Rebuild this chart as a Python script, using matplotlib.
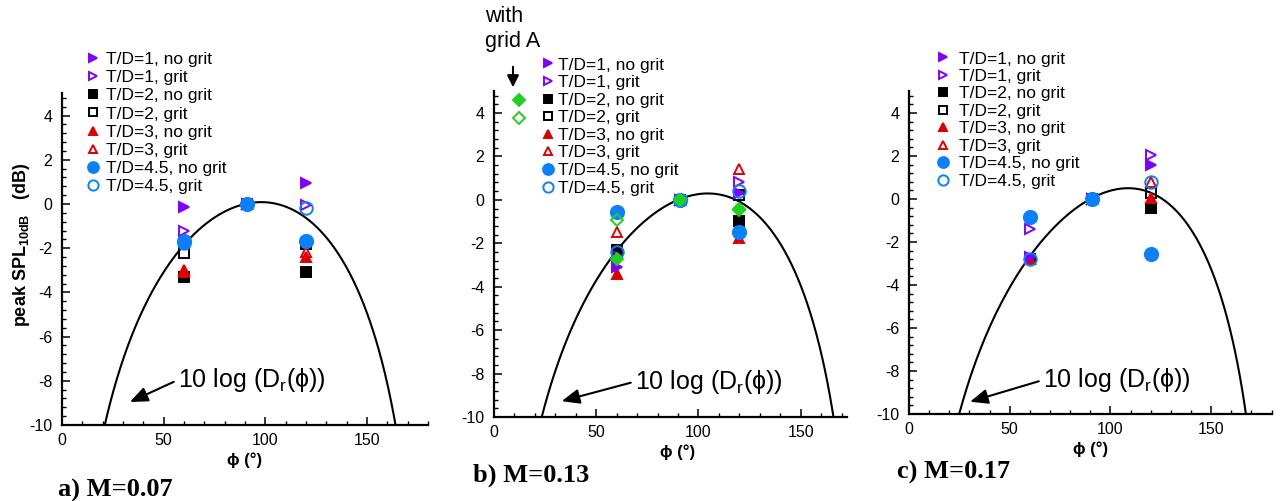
import numpy as np
import matplotlib
matplotlib.use("Agg")
import matplotlib.pyplot as plt
from matplotlib.lines import Line2D
from matplotlib.ticker import MultipleLocator

plt.rcParams['font.family'] = ['Liberation Sans', 'DejaVu Sans']
plt.rcParams['mathtext.fontset'] = 'custom'
plt.rcParams['mathtext.rm'] = 'Liberation Sans'
plt.rcParams['mathtext.it'] = 'Liberation Sans:italic'
plt.rcParams['mathtext.bf'] = 'Liberation Sans:bold'
plt.rcParams['axes.unicode_minus'] = False

# ---------------- data ----------------
panel_titles = ["a) M=0.07", "b) M=0.13", "c) M=0.17"]
mach = [0.07, 0.13, 0.17]
phi = [60, 91, 120]

series_labels = ["T/D=1, no grit", "T/D=1, grit", "T/D=2, no grit", "T/D=2, grit",
                 "T/D=3, no grit", "T/D=3, grit", "T/D=4.5, no grit", "T/D=4.5, grit"]

# panel a (M=0.07)
a_td1_nogrit = [-0.15, 0.0, 0.97]
a_td1_grit = [-1.22, 0.0, -0.05]
a_td2_nogrit = [-3.29, 0.0, -3.06]
a_td2_grit = [-2.23, 0.0, -1.81]
a_td3_nogrit = [-3.09, 0.0, -2.41]
a_td3_grit = [-3.00, 0.0, -2.19]
a_td45_nogrit = [-1.67, 0.0, -1.66]
a_td45_grit = [-1.75, 0.0, -0.20]

# panel b (M=0.13)
b_td1_nogrit = [-3.11, 0.0, 0.31]
b_td1_grit = [-2.60, 0.0, 0.81]
b_td2_nogrit = [-2.38, 0.0, -0.97]
b_td2_grit = [-2.30, 0.0, 0.23]
b_td3_nogrit = [-3.40, 0.0, -1.76]
b_td3_grit = [-1.46, 0.0, 1.41]
b_td45_nogrit = [-0.57, 0.0, -1.50]
b_td45_grit = [-2.41, 0.0, 0.41]
b_gridA_nogrit = [-2.73, 0.0, -0.46]
b_gridA_grit = [-0.92, 0.0, -0.40]

# panel c (M=0.17)
c_td1_nogrit = [-2.70, 0.0, 1.58]
c_td1_grit = [-1.40, 0.0, 2.05]
c_td2_nogrit = [-2.80, 0.0, -0.40]
c_td2_grit = [-2.80, 0.0, 0.30]
c_td3_nogrit = [-2.79, 0.0, 0.06]
c_td3_grit = [-2.80, 0.0, 0.78]
c_td45_nogrit = [-0.85, 0.0, -2.57]
c_td45_grit = [-2.79, 0.0, 0.81]

panel_series = [
    [a_td1_nogrit, a_td1_grit, a_td2_nogrit, a_td2_grit, a_td3_nogrit, a_td3_grit, a_td45_nogrit, a_td45_grit],
    [b_td1_nogrit, b_td1_grit, b_td2_nogrit, b_td2_grit, b_td3_nogrit, b_td3_grit, b_td45_nogrit, b_td45_grit],
    [c_td1_nogrit, c_td1_grit, c_td2_nogrit, c_td2_grit, c_td3_nogrit, c_td3_grit, c_td45_nogrit, c_td45_grit],
]

# ---------------- styles ----------------
PURPLE = '#8000ff'
RED = '#dd0000'
BLUE = '#0a80ff'
GREEN = '#1fd11f'
styles = [
    dict(marker='>', color=PURPLE, filled=True, ms=6.8),
    dict(marker='>', color=PURPLE, filled=False, ms=6.8),
    dict(marker='s', color='black', filled=True, ms=6.6),
    dict(marker='s', color='black', filled=False, ms=6.6),
    dict(marker='^', color=RED, filled=True, ms=7.2),
    dict(marker='^', color=RED, filled=False, ms=7.2),
    dict(marker='o', color=BLUE, filled=True, ms=9.5),
    dict(marker='o', color=BLUE, filled=False, ms=9.0),
]
draw_order = [3, 2, 5, 4, 1, 0, 6, 7]

fig = plt.figure(figsize=(12.8, 5.01), dpi=100)
W, H = 1280.0, 501.0

axes_px = [  # left, right, bottom, top (pixels) -- layout only
    (62, 428, 425, 93.5),
    (494, 846.7, 417, 91.25),
    (909, 1271.5, 414, 91.5),
]
xmax = [180, 172.5, 180]
legend_anchor = [(0.061, 1.125, 0.25, 0.17), (0.1284, 1.104, 0.08, 0.14), (0.0698, 1.1245, 0.42, 0.135)]
title_pos = [(58, 490), (473, 475), (897, 472)]
annot = [((33.4, -8.96), (57, -7.96)), ((33.1, -9.27), (68.9, -8.37)), ((30.3, -9.43), (66.5, -8.42))]

TEXT_FS = 12.5


def mk_kwargs(st, ms=None):
    kw = dict(marker=st['marker'], ms=ms if ms else st['ms'], mec=st['color'], mew=1.4, ls='none')
    kw['mfc'] = st['color'] if st['filled'] else 'none'
    return kw


for i in range(3):
    l, r, b, t = axes_px[i]
    ax = fig.add_axes([l / W, 1 - b / H, (r - l) / W, (b - t) / H])
    ax.set_xlim(0, xmax[i])
    ax.set_ylim(-10, 5)
    for s in ['top', 'right']:
        ax.spines[s].set_visible(False)
    for s in ['left', 'bottom']:
        ax.spines[s].set_linewidth(1.6)
    ax.set_xticks([0, 50, 100, 150])
    ax.set_yticks([-10, -8, -6, -4, -2, 0, 2, 4])
    ax.xaxis.set_minor_locator(MultipleLocator(10))
    ax.yaxis.set_minor_locator(MultipleLocator(0.4))
    ax.tick_params(which='major', direction='in', length=6, width=1.1, labelsize=11.5)
    ax.tick_params(which='minor', direction='in', length=3.2, width=1.0)
    ax.tick_params(axis='y', which='major', pad=7)
    ax.tick_params(axis='x', which='major', pad=6)

    # theoretical directivity curve 10 log(Dr(phi)), Dr = sin^2(phi)/(1+M cos phi)^4
    ph = np.linspace(0.5, 179.5, 600)
    rad = np.deg2rad(ph)
    dr = np.sin(rad) ** 2 / (1 + mach[i] * np.cos(rad)) ** 4
    ax.plot(ph, 10 * np.log10(dr), color='black', lw=1.5, zorder=2)

    data = panel_series[i]
    for k in draw_order:
        ax.plot(phi, data[k], zorder=3, clip_on=False, **mk_kwargs(styles[k]))
    if i == 1:
        ax.plot(phi, b_gridA_grit, zorder=3, clip_on=False,
                marker='D', ms=6.6, mfc='none', mec=GREEN, mew=1.4, ls='none')
        ax.plot(phi, b_gridA_nogrit, zorder=4, clip_on=False,
                marker='D', ms=6.6, mfc=GREEN, mec=GREEN, mew=1.4, ls='none')

    # legend
    handles = [Line2D([], [], **mk_kwargs(styles[k], ms=styles[k]['ms'] * 0.82)) for k in range(8)]
    lx, ly, htp, lsp = legend_anchor[i]
    leg = ax.legend(handles, series_labels, loc='upper left', bbox_to_anchor=(lx, ly),
                    frameon=False, fontsize=TEXT_FS, handlelength=1.0, handletextpad=htp,
                    labelspacing=lsp, borderpad=0, borderaxespad=0)
    if i == 1:
        ax.add_artist(leg)
        gh = [Line2D([], [], marker='D', ms=6.2, mfc=GREEN, mec=GREEN, mew=1.4, ls='none'),
              Line2D([], [], marker='D', ms=6.2, mfc='none', mec=GREEN, mew=1.4, ls='none')]
        ax.legend(gh, [' ', ' '], loc='upper left', bbox_to_anchor=(0.0462, 0.9922),
                  frameon=False, fontsize=TEXT_FS, handlelength=1.0, handletextpad=0.1,
                  labelspacing=0.19, borderpad=0, borderaxespad=0)

    # annotation
    tip, txt = annot[i]
    ax.annotate('10 log (D$_\\mathrm{r}$(ϕ))', xy=tip, xytext=txt, fontsize=18,
                ha='left', va='center',
                arrowprops=dict(arrowstyle='-|>,head_length=0.6,head_width=0.25', color='black',
                                lw=1.5, shrinkA=1, shrinkB=0, relpos=(0, 0.5)))

    # x label centred at phi = 90
    ax.set_xlabel('ϕ (°)', fontsize=12, fontweight='bold', va='center')
    ax.xaxis.set_label_coords(90 / xmax[i], -35 / (b - t))

    tx, ty = title_pos[i]
    fig.text(tx / W, 1 - ty / H, panel_titles[i], fontsize=19, fontweight='bold',
             family='Liberation Serif', ha='left', va='center')

# y label (panel a)
fig.text(22 / W, 1 - 245 / H, 'peak SPL$_{\\mathbf{10dB}}$   (dB)', rotation=90, fontsize=13,
         fontweight='bold', ha='center', va='center')

# "with grid A" note in panel b
fig.text(485 / W, 1 - 17 / H, 'with', fontsize=15.5, ha='left', va='center')
fig.text(485 / W, 1 - 42 / H, 'grid A', fontsize=15.5, ha='left', va='center')
fig.add_artist(matplotlib.patches.FancyArrowPatch(
    (513 / W, 1 - 64 / H), (513 / W, 1 - 90 / H), transform=fig.transFigure,
    arrowstyle='-|>,head_length=7,head_width=3.5', color='black', lw=1.5, mutation_scale=1))

fig.savefig('out.png', dpi=100)
